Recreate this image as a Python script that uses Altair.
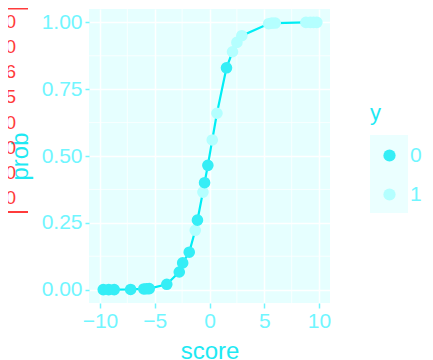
import altair as alt
import pandas as pd

# ---- data ----
scores = [-9.7, -9.2, -8.7, -7.2, -6.0, -5.75, -5.5, -3.9, -2.76, -2.45, -1.85,
          -1.3, -1.1, -0.6, -0.45, -0.15, 0.25, 0.68, 1.55, 2.1, 2.5, 2.95,
          5.4, 5.7, 6.0, 8.8, 9.2, 9.5, 9.8]
probs = [0.0001, 0.0001, 0.0002, 0.0007, 0.0025, 0.0032, 0.004, 0.02, 0.066, 0.10, 0.14,
         0.222, 0.26, 0.365, 0.40, 0.465, 0.56, 0.66, 0.83, 0.89, 0.925, 0.95,
         0.995, 0.997, 0.9975, 0.9998, 0.9999, 0.9999, 1.0]
ys = ["0", "0", "0", "0", "0", "0", "0", "0", "0", "0", "0",
      "1", "0", "1", "0", "0", "1", "1", "0", "1", "1", "1",
      "1", "1", "1", "1", "1", "1", "1"]
y_levels = ["0", "1"]
x_ticks = [-10, -5, 0, 5, 10]
x_minor = [-7.5, -2.5, 2.5, 7.5]
y_ticks = [0, 0.25, 0.5, 0.75, 1.0]
y_minor = [0.125, 0.375, 0.625, 0.875]
red_labels = ["1.000", "0.900", "0.826", "0.725", "0.600", "0.500", "0.400", "0.300"]

df = pd.DataFrame({"score": scores, "prob": probs, "y": ys})
xm = pd.DataFrame({"v": x_minor})
ym = pd.DataFrame({"v": y_minor})
red = pd.DataFrame({"lab": red_labels, "i": list(range(len(red_labels)))})

FONT = "Liberation Sans"
LABEL_C = "#70f6ff"
TITLE_C = "#1ee9f3"
RED = "#ff3b3b"

x_scale = alt.Scale(domain=[-11, 11], nice=False, zero=False)
y_scale = alt.Scale(domain=[-0.05, 1.05], nice=False, zero=False)

x_axis = alt.Axis(values=x_ticks, grid=True, gridColor="white", gridWidth=1.5,
                  domain=False, tickColor=LABEL_C, tickSize=5, tickWidth=1.5,
                  labelFontSize=21, labelColor=LABEL_C, labelPadding=2,
                  titleFontSize=24, titleColor=TITLE_C, titleFontWeight="normal",
                  titleBaseline="alphabetic", titleY=55)
y_axis = alt.Axis(values=y_ticks, format=".2f", grid=True, gridColor="white", gridWidth=1.5,
                  domain=False, tickColor=LABEL_C, tickSize=4, tickWidth=1.5,
                  labelFontSize=21, labelColor=LABEL_C, labelPadding=3,
                  titleFontSize=24, titleColor=TITLE_C, titleFontWeight="normal",
                  titleAngle=270, titleBaseline="alphabetic", titleX=-62)

def X(field):
    return alt.X(field, type="quantitative", scale=x_scale, axis=x_axis, title="score")

def Y(field):
    return alt.Y(field, type="quantitative", scale=y_scale, axis=y_axis, title="prob")

minor_x = alt.Chart(xm).mark_rule(color="white", strokeWidth=0.75).encode(x=X("v"))
minor_y = alt.Chart(ym).mark_rule(color="white", strokeWidth=0.75).encode(y=Y("v"))

line = alt.Chart(df).mark_line(color="#00eef5", strokeWidth=2.2).encode(
    x=X("score"), y=Y("prob"), order="score:Q")

points = alt.Chart(df).mark_circle(size=135, opacity=1).encode(
    x=X("score"), y=Y("prob"),
    color=alt.Color("y:N", scale=alt.Scale(domain=y_levels, range=["#35eef6", "#b4ffff"]),
                    legend=alt.Legend(orient="none", legendX=281, legendY=94, title="y",
                                      titleFontSize=22, titleColor=TITLE_C,
                                      titleFontWeight="normal", titlePadding=20,
                                      labelFontSize=21, labelColor=LABEL_C,
                                      symbolSize=150, symbolOffset=9, labelOffset=10,
                                      rowPadding=17, padding=0, symbolStrokeWidth=0)))

legend_bg = alt.Chart(alt.Data(values=[{"a": 1}])).mark_rect(color="#ebffff").encode(
    x=alt.value(281), x2=alt.value(319), y=alt.value(126), y2=alt.value(204))

inner = alt.layer(minor_x, minor_y, line, legend_bg, points)

red_text = alt.Chart(red).mark_text(color=RED, align="right", baseline="middle",
                                    fontSize=19, font=FONT).encode(
    x=alt.value(-73),
    y=alt.Y("i:O", axis=None, scale=alt.Scale(type="point", range=[13, 189], padding=0)),
    text="lab:N")
red_top = alt.Chart(alt.Data(values=[{"a": 1}])).mark_rule(color=RED, strokeWidth=2).encode(
    x=alt.value(-81), x2=alt.value(-61), y=alt.value(-0.5))
red_bot = alt.Chart(alt.Data(values=[{"a": 1}])).mark_rule(color=RED, strokeWidth=2).encode(
    x=alt.value(-81), x2=alt.value(-61), y=alt.value(203))

chart = alt.layer(inner, red_text, red_top, red_bot).resolve_scale(y="independent").properties(
    width=241, height=294,
    padding={"left": 81, "top": 1, "right": 95, "bottom": 56},
    autosize=alt.AutoSizeParams(type="none"),
).configure(font=FONT).configure_view(fill="#e6ffff", stroke=None)

chart.save("out.html", embed_options={"renderer": "svg", "actions": False})
